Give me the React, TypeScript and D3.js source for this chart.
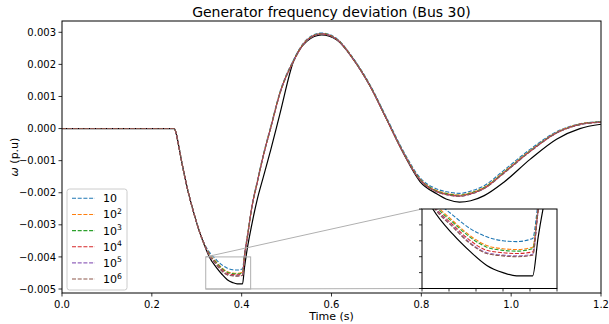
import React from "react";
import * as d3 from "d3";

// Time axis (s), shared by all series
const time = [0, 0.25, 0.255, 0.26, 0.266, 0.278, 0.292, 0.307, 0.318, 0.328, 0.343, 0.356, 0.368, 0.38, 0.39, 0.402, 0.406, 0.414, 0.422, 0.435, 0.448, 0.465, 0.485, 0.515, 0.545, 0.578, 0.612, 0.649, 0.686, 0.723, 0.76, 0.797, 0.834, 0.86, 0.885, 0.91, 0.94, 0.983, 1.042, 1.101, 1.153, 1.2];

// Frequency deviation (p.u) per series
const s10 = [0, 0, -0.0002, -0.00055, -0.001, -0.0018, -0.00256, -0.00325, -0.00362, -0.00385, -0.00408, -0.00425, -0.00435, -0.0044, -0.00441, -0.00437, -0.00393, -0.00322, -0.00247, -0.00162, -0.00082, 0.00008, 0.00113, 0.00213, 0.00278, 0.00298, 0.0028, 0.00218, 0.00136, 0.00033, -0.0007, -0.00153, -0.00188, -0.00198, -0.00202, -0.00195, -0.00178, -0.00131, -0.00065, -0.0001, 0.00015, 0.00022];
const s10e2 = [0, 0, -0.0002, -0.00055, -0.001, -0.0018, -0.00256, -0.00325, -0.00364, -0.0039, -0.00415, -0.00434, -0.00446, -0.0045, -0.00451, -0.00448, -0.004, -0.00325, -0.0025, -0.00165, -0.00085, 0.00005, 0.0011, 0.0021, 0.00276, 0.00296, 0.00278, 0.00216, 0.00133, 0.00029, -0.00074, -0.00157, -0.00193, -0.00203, -0.00207, -0.002, -0.00183, -0.00136, -0.00069, -0.00012, 0.00014, 0.00021];
const s10e3 = [0, 0, -0.0002, -0.00055, -0.001, -0.0018, -0.00256, -0.00325, -0.00364, -0.00392, -0.00417, -0.00436, -0.00448, -0.00452, -0.00453, -0.0045, -0.004, -0.00325, -0.0025, -0.00165, -0.00085, 0.00005, 0.0011, 0.0021, 0.00275, 0.00296, 0.00278, 0.00216, 0.00133, 0.00029, -0.00075, -0.00158, -0.00194, -0.00204, -0.00208, -0.00201, -0.00184, -0.00137, -0.0007, -0.00013, 0.00013, 0.00021];
const s10e4 = [0, 0, -0.0002, -0.00055, -0.001, -0.0018, -0.00256, -0.00325, -0.00364, -0.00394, -0.0042, -0.0044, -0.00452, -0.00455, -0.00456, -0.00454, -0.00402, -0.00326, -0.00251, -0.00166, -0.00086, 0.00004, 0.00109, 0.00209, 0.00275, 0.00295, 0.00278, 0.00215, 0.00132, 0.00028, -0.00076, -0.00159, -0.00196, -0.00206, -0.0021, -0.00203, -0.00186, -0.00139, -0.00071, -0.00014, 0.00013, 0.0002];
const s10e5 = [0, 0, -0.0002, -0.00055, -0.001, -0.0018, -0.00256, -0.00325, -0.00364, -0.00395, -0.00422, -0.00443, -0.00455, -0.00458, -0.00459, -0.00457, -0.00403, -0.00327, -0.00252, -0.00167, -0.00087, 0.00003, 0.00108, 0.00208, 0.00274, 0.00295, 0.00277, 0.00215, 0.00132, 0.00028, -0.00076, -0.0016, -0.00197, -0.00207, -0.00211, -0.00204, -0.00187, -0.0014, -0.00072, -0.00014, 0.00012, 0.0002];
const s10e6 = [0, 0, -0.0002, -0.00055, -0.001, -0.0018, -0.00256, -0.00325, -0.00364, -0.00396, -0.00423, -0.00444, -0.00456, -0.00459, -0.0046, -0.00458, -0.00403, -0.00327, -0.00252, -0.00167, -0.00087, 0.00003, 0.00108, 0.00208, 0.00274, 0.00295, 0.00277, 0.00215, 0.00132, 0.00028, -0.00076, -0.0016, -0.00197, -0.00207, -0.00211, -0.00204, -0.00187, -0.0014, -0.00072, -0.00014, 0.00012, 0.0002];
const reference = [0, 0, -0.0002, -0.00055, -0.001, -0.0018, -0.00256, -0.00325, -0.00367, -0.004, -0.00432, -0.00454, -0.00471, -0.0048, -0.00484, -0.00484, -0.00436, -0.00362, -0.00303, -0.00219, -0.00152, -0.00065, 0.00045, 0.00208, 0.00272, 0.00292, 0.00276, 0.00215, 0.00132, 0.00028, -0.00077, -0.00165, -0.00203, -0.00222, -0.00229, -0.00225, -0.00209, -0.00168, -0.00096, -0.00033, 0, 0.000134];

const legendBase = ["10", "10", "10", "10", "10", "10"];
const legendExp = ["", "2", "3", "4", "5", "6"];
const seriesColors = ["#1f77b4", "#ff7f0e", "#2ca02c", "#d62728", "#9467bd", "#8c564b"];
const seriesData = [s10, s10e2, s10e3, s10e4, s10e5, s10e6];

const xTicks = [0, 0.2, 0.4, 0.6, 0.8, 1.0, 1.2];
const yTicks = [0.003, 0.002, 0.001, 0, -0.001, -0.002, -0.003, -0.004, -0.005];
const insetXTicks = [0.32, 0.34, 0.36, 0.38, 0.4, 0.42];
const insetYTicks = [-0.005, -0.0048, -0.0046, -0.0044, -0.0042, -0.004];
const insetXDomain = [0.32, 0.42];
const insetYDomain = [-0.005, -0.004];

const FONT = "DejaVu Sans, sans-serif";

export default function App() {
  const L = 62, R = 601, T = 21, B = 293;
  const x = d3.scaleLinear().domain([0, 1.2]).range([L, R]);
  const y = d3.scaleLinear().domain([-0.005, 0.003]).range([289, 32.3]);

  const IL = 422, IR = 557, IT = 209, IB = 288.5;
  const xi = d3.scaleLinear().domain(insetXDomain).range([IL, IR]);
  const yi = d3.scaleLinear().domain(insetYDomain).range([IB, IT]);

  const mkLine = (sx: any, sy: any) =>
    d3.line<number>()
      .x((_, i) => sx(time[i]))
      .y((d) => sy(d))
      .curve(d3.curveMonotoneX);

  const mainLine = mkLine(x, y);
  const insetLine = mkLine(xi, yi);

  const fmtY = (v: number) => {
    const s = Math.abs(v).toFixed(3);
    return v < 0 ? "\u2212" + s : s;
  };

  const rx0 = x(insetXDomain[0]), rx1 = x(insetXDomain[1]);
  const ry0 = y(insetYDomain[1]), ry1 = y(insetYDomain[0]);

  const drawSeries = (gen: any, keyp: string) => (
    <>
      <path d={gen(reference) || ""} fill="none" stroke="#000" strokeWidth={1.2} />
      {seriesData.map((s, k) => (
        <path key={keyp + k} d={gen(s) || ""} fill="none" stroke={seriesColors[k]}
          strokeWidth={1.1} strokeDasharray="4 1.7" />
      ))}
    </>
  );

  const rowY = (i: number) => 198.3 + i * 16.15;

  return (
    <svg width={609} height={324} style={{ position: "absolute", left: 0, top: 0, background: "#fff" }}
      fontFamily={FONT}>
      <defs>
        <clipPath id="mainClip"><rect x={L} y={T} width={R - L} height={B - T} /></clipPath>
        <clipPath id="insetClip"><rect x={IL} y={IT} width={IR - IL} height={IB - IT} /></clipPath>
      </defs>
      <rect x={0} y={0} width={609} height={324} fill="#fff" />

      {/* title */}
      <text x={(L + R) / 2} y={17} textAnchor="middle" fontSize={14} fill="#000">
        Generator frequency deviation (Bus 30)
      </text>

      {/* main curves */}
      <g clipPath="url(#mainClip)">{drawSeries(mainLine, "m")}</g>

      {/* zoom rectangle and connectors */}
      <rect x={rx0} y={ry0} width={rx1 - rx0} height={ry1 - ry0} fill="none" stroke="#b0b0b0" strokeWidth={1} />
      <line x1={rx0} y1={ry0} x2={IL} y2={IT} stroke="#b0b0b0" strokeWidth={1} />
      <line x1={rx0} y1={ry1} x2={IL} y2={IB} stroke="#b0b0b0" strokeWidth={1} />

      {/* axes frame */}
      <rect x={L} y={T} width={R - L} height={B - T} fill="none" stroke="#000" strokeWidth={1} />

      {/* x ticks */}
      {xTicks.map((t) => (
        <g key={"xt" + t}>
          <line x1={x(t)} x2={x(t)} y1={B} y2={B + 3.5} stroke="#000" strokeWidth={0.8} />
          <text x={x(t)} y={308} textAnchor="middle" fontSize={10} fill="#000">{t.toFixed(1)}</text>
        </g>
      ))}
      {/* y ticks */}
      {yTicks.map((t) => (
        <g key={"yt" + t}>
          <line x1={L - 3.5} x2={L} y1={y(t)} y2={y(t)} stroke="#000" strokeWidth={0.8} />
          <text x={L - 6} y={y(t) + 3.6} textAnchor="end" fontSize={10} fill="#000">{fmtY(t)}</text>
        </g>
      ))}

      <text x={(L + R) / 2} y={320} textAnchor="middle" fontSize={11} fill="#000">Time (s)</text>
      <text transform={`translate(18,${(T + B) / 2}) rotate(-90)`} textAnchor="middle" fontSize={11} fill="#000">
        <tspan fontStyle="italic">ω</tspan> (p.u)
      </text>

      {/* legend */}
      <rect x={67} y={189} width={60} height={101} rx={2.5} fill="#fff" fillOpacity={0.8} stroke="#cccccc" strokeWidth={1} />
      {seriesColors.map((c, i) => (
        <g key={"lg" + i}>
          <line x1={72} x2={95} y1={rowY(i)} y2={rowY(i)} stroke={c} strokeWidth={1.1} strokeDasharray="4 1.7" />
          <text x={103} y={rowY(i) + 4} fontSize={11} fill="#000">
            {legendBase[i]}
            {legendExp[i] ? <tspan dy={-4.5} fontSize={7.7}>{legendExp[i]}</tspan> : null}
          </text>
        </g>
      ))}

      {/* inset */}
      <rect x={IL} y={IT} width={IR - IL} height={IB - IT} fill="#fff" />
      <g clipPath="url(#insetClip)">{drawSeries(insetLine, "i")}</g>
      <rect x={IL} y={IT} width={IR - IL} height={IB - IT} fill="none" stroke="#000" strokeWidth={1} />
      {insetXTicks.map((t) => (
        <line key={"ixt" + t} x1={xi(t)} x2={xi(t)} y1={IB} y2={IB + 3} stroke="#000" strokeWidth={0.8} />
      ))}
      {insetYTicks.map((t) => (
        <line key={"iyt" + t} x1={IL - 3} x2={IL} y1={yi(t)} y2={yi(t)} stroke="#000" strokeWidth={0.8} />
      ))}
    </svg>
  );
}
